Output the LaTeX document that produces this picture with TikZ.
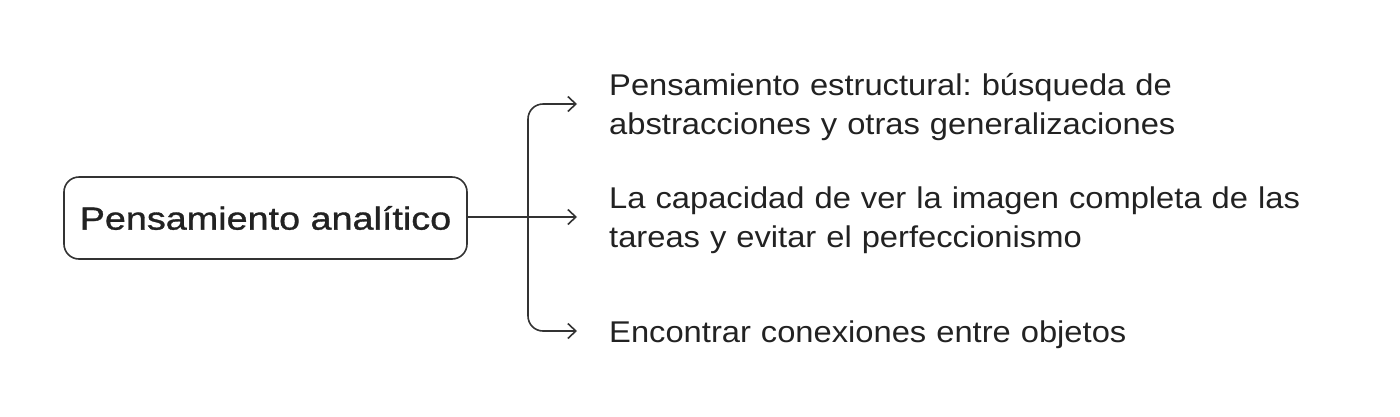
\documentclass[tikz,border=0pt]{standalone}
\usepackage{fontspec}
\setmainfont{Liberation Sans}[FakeStretch=1.09]
\newfontfamily\headfont{Liberation Sans}[FakeStretch=1.18, FakeBold=1.0]
\usetikzlibrary{arrows.meta}
\definecolor{ink}{HTML}{222222}
\definecolor{wire}{HTML}{333333}
\tikzset{
  mainbox/.style={draw=wire, line width=1.6pt, rounded corners=15pt, minimum width=403pt, minimum height=82pt, inner sep=0pt, text=ink, font=\headfont\fontsize{32}{38}\selectfont},
  itemtext/.style={anchor=base west, inner sep=0pt, text width=780pt, align=left, text=ink, font=\fontsize{30}{39.5}\selectfont},
  link/.style={draw=wire, line width=1.6pt, -{Straight Barb[length=8pt,width=15pt,line width=1.6pt]}},
}
\frenchspacing
\begin{document}
\begin{tikzpicture}[x=1pt,y=-1pt]
\useasboundingbox[fill=white] (0,0) rectangle (1400,416);
\node[mainbox] (main) at (265.5,218) {Pensamiento analítico};
\node[itemtext] (t1) at (609,95) {Pensamiento estructural: búsqueda de\\abstracciones y otras generalizaciones};
\node[itemtext] (t2) at (609,208) {La capacidad de ver la imagen completa de las\\tareas y evitar el perfeccionismo};
\node[itemtext] (t3) at (609,342) {Encontrar conexiones entre objetos};
\coordinate (j) at (528,217);
\coordinate (tip1) at (577,104);
\coordinate (tip2) at (577,217);
\coordinate (tip3) at (577,331);
\draw[link] (main.east |- j) -- (tip2);
\draw[link, rounded corners=15pt] (j) |- (tip1);
\draw[link, rounded corners=15pt] (j) |- (tip3);
\end{tikzpicture}
\end{document}
